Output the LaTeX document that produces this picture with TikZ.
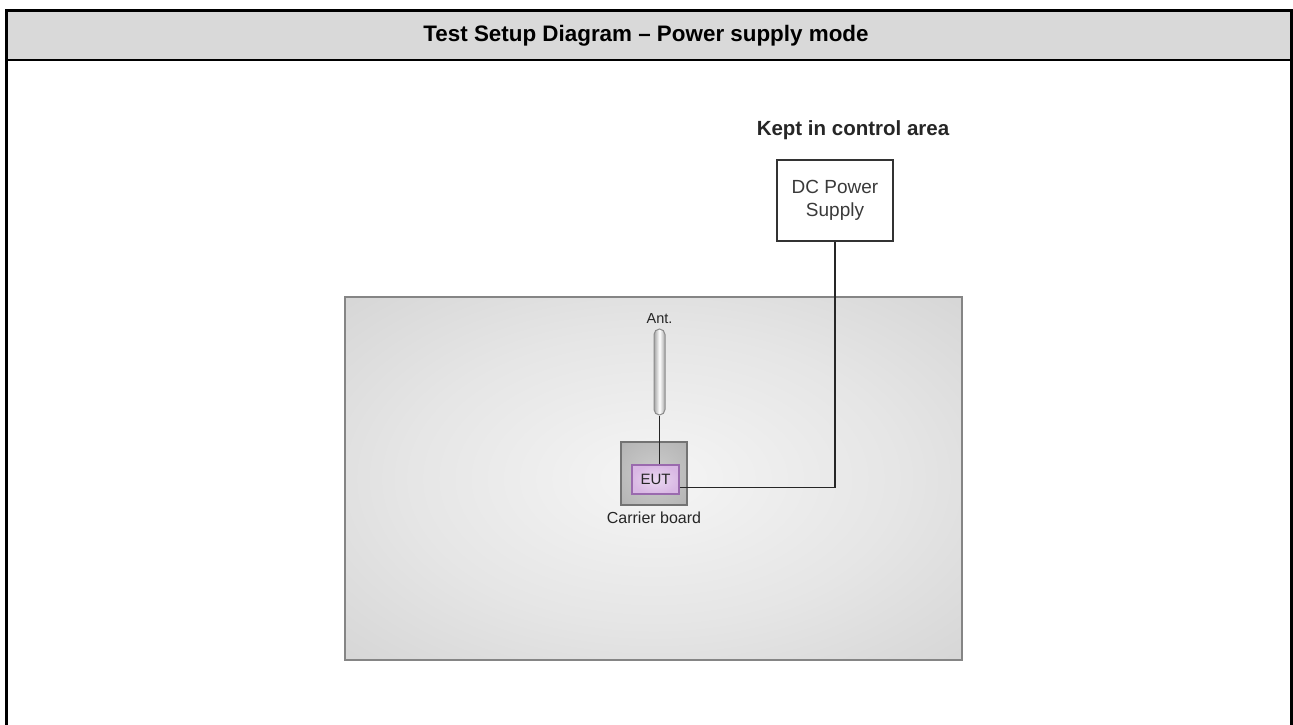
\documentclass[tikz,border=0pt]{standalone}
\usepackage{fontspec}
\setmainfont{Liberation Sans}
\usepackage{xcolor}
\usetikzlibrary{positioning, calc}
\definecolor{headgray}{HTML}{D9D9D9}
\definecolor{edgegray}{HTML}{858585}
\definecolor{textgray}{HTML}{3A3A3A}
\definecolor{eutfill}{HTML}{D9B8E4}
\definecolor{eutedge}{HTML}{9A6AAE}
\pgfdeclareradialshading{roomglow}{\pgfpoint{0bp}{0bp}}{%
  color(0bp)=(white!96!black); color(20bp)=(white!90!black);
  color(38bp)=(white!83!black); color(50bp)=(white!79!black)}
\pgfdeclareradialshading{boardglow}{\pgfpoint{0bp}{0bp}}{%
  color(0bp)=(white!80!black); color(30bp)=(white!72!black);
  color(50bp)=(white!64!black)}
\tikzset{
  frame/.style={line width=3pt, black},
  room/.style={draw=edgegray, line width=1.6pt, shading=roomglow},
  psubox/.style={draw=black!80, line width=1.3pt, fill=white, minimum width=116pt, minimum height=81pt,
    align=center, text=textgray, font=\fontsize{19}{23}\selectfont},
  board/.style={draw=black!55, line width=1.2pt, shading=boardglow, minimum width=66pt, minimum height=63pt},
  eutbox/.style={draw=eutedge, line width=1.2pt, inner color=eutfill!55, outer color=eutfill,
    minimum width=47pt, minimum height=29pt, font=\fontsize{15}{18}\selectfont, text=black!85},
  antenna/.style={draw=black!45, line width=1pt, left color=black!35, right color=black!35, middle color=white,
    rounded corners=5.5pt, minimum width=11pt, minimum height=86pt},
  caption/.style={font=\fontsize{16}{19}\selectfont, text=black!85},
  wire/.style={line width=1.3pt, black!85}
}
\begin{document}
\begin{tikzpicture}[x=1pt, y=-1pt]
  \useasboundingbox (0,0) rectangle (1293,725);

  % Frame and header
  \fill[headgray] (6.5,10.5) rectangle (1291.5,60);
  \draw[frame] (6.5,725) -- (6.5,10.5) -- (1291.5,10.5) -- (1291.5,725);
  \draw[line width=2pt] (6.5,60) -- (1291.5,60);
  \node[font=\bfseries\fontsize{22.4}{27}\selectfont] (title) at (646,36) {Test Setup Diagram -- Power supply mode};

  % Control area
  \node[font=\bfseries\fontsize{20.5}{24}\selectfont, text=black!85] (area) at (853,130) {Kept in control area};
  \node[psubox] (psu) at (835,200.5) {DC Power\\Supply};

  % Test room
  \draw[room] (345,297) rectangle (962,660);
  \node[antenna] (ant) at (659.5,372) {};
  \node[caption, font=\fontsize{14.5}{17}\selectfont, above=1pt of ant] (antlabel) {Ant.};
  \node[board] (carrier) at (654,473.5) {};
  \node[eutbox] (eut) at (655.5,479.5) {EUT};
  \node[caption, below=3pt of carrier] (carrierlabel) {Carrier board};

  % Connections
  \draw[wire] (ant.south) -- (ant.south |- eut.north);
  \draw[wire] (eut.east) ++(0,8) -| (psu.south);
\end{tikzpicture}
\end{document}
